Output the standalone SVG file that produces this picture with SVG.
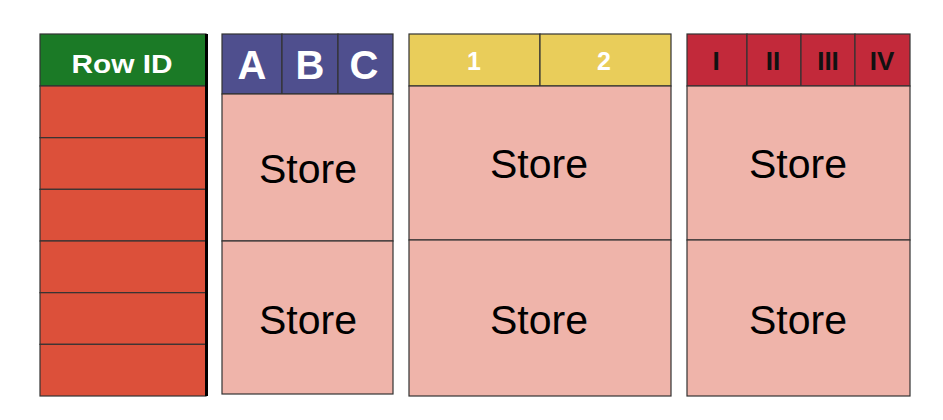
<svg xmlns="http://www.w3.org/2000/svg" width="943" height="420" viewBox="0 0 943 420">
<style>
.b{stroke:#333;stroke-width:1.2}
.row{fill:#dc503a}
.pink{fill:#efb4aa}
.hw{font-family:"Liberation Sans",Arial,sans-serif;font-weight:bold;fill:#fff;text-anchor:middle}
.hk{font-family:"Liberation Sans",Arial,sans-serif;font-weight:bold;fill:#111;text-anchor:middle}
.st{font-family:"Liberation Sans",Arial,sans-serif;font-size:41px;fill:#000;text-anchor:middle}
</style>
<rect width="943" height="420" fill="#fff"/>
<g id="rowid">
<rect class="b" x="40" y="34" width="166" height="52" fill="#1b7a26"/>
<text class="hw" x="122" y="73" font-size="26" textLength="101" lengthAdjust="spacingAndGlyphs">Row ID</text>
<rect class="b row" x="40" y="86" width="166" height="51.7"/>
<rect class="b row" x="40" y="137.7" width="166" height="51.7"/>
<rect class="b row" x="40" y="189.3" width="166" height="51.7"/>
<rect class="b row" x="40" y="241" width="166" height="51.7"/>
<rect class="b row" x="40" y="292.7" width="166" height="51.7"/>
<rect class="b row" x="40" y="344.3" width="166" height="51.7"/>
<line x1="206.5" y1="34" x2="206.5" y2="396" stroke="#000" stroke-width="3"/>
</g>
<g id="abc">
<rect class="b" x="222" y="34" width="60" height="60" fill="#4f4f8e"/>
<rect class="b" x="282" y="34" width="56" height="60" fill="#4f4f8e"/>
<rect class="b" x="338" y="34" width="55" height="60" fill="#4f4f8e"/>
<text class="hw" x="252" y="79" font-size="40">A</text>
<text class="hw" x="310" y="79" font-size="40">B</text>
<text class="hw" x="364" y="79" font-size="40">C</text>
<rect class="b pink" x="222" y="94" width="171" height="147"/>
<rect class="b pink" x="222" y="241" width="171" height="153"/>
<text class="st" x="308" y="183">Store</text>
<text class="st" x="308" y="334">Store</text>
</g>
<g id="twelve">
<rect class="b" x="409" y="34" width="131" height="52" fill="#e9cd5a"/>
<rect class="b" x="540" y="34" width="131" height="52" fill="#e9cd5a"/>
<text class="hw" x="474" y="70" font-size="25">1</text>
<text class="hw" x="604" y="70" font-size="25">2</text>
<rect class="b pink" x="409" y="86" width="262" height="154"/>
<rect class="b pink" x="409" y="240" width="262" height="156"/>
<text class="st" x="539" y="178">Store</text>
<text class="st" x="539" y="334">Store</text>
</g>
<g id="roman">
<rect class="b" x="687" y="34" width="60" height="52" fill="#c2293a"/>
<rect class="b" x="747" y="34" width="54" height="52" fill="#c2293a"/>
<rect class="b" x="801" y="34" width="54" height="52" fill="#c2293a"/>
<rect class="b" x="855" y="34" width="55" height="52" fill="#c2293a"/>
<text class="hk" x="716" y="70" font-size="26">I</text>
<text class="hk" x="773" y="70" font-size="26">II</text>
<text class="hk" x="828" y="70" font-size="26">III</text>
<text class="hk" x="882" y="70" font-size="26">IV</text>
<rect class="b pink" x="687" y="86" width="223" height="154"/>
<rect class="b pink" x="687" y="240" width="223" height="156"/>
<text class="st" x="798" y="178">Store</text>
<text class="st" x="798" y="334">Store</text>
</g>
<g id="connectors"/>
</svg>
